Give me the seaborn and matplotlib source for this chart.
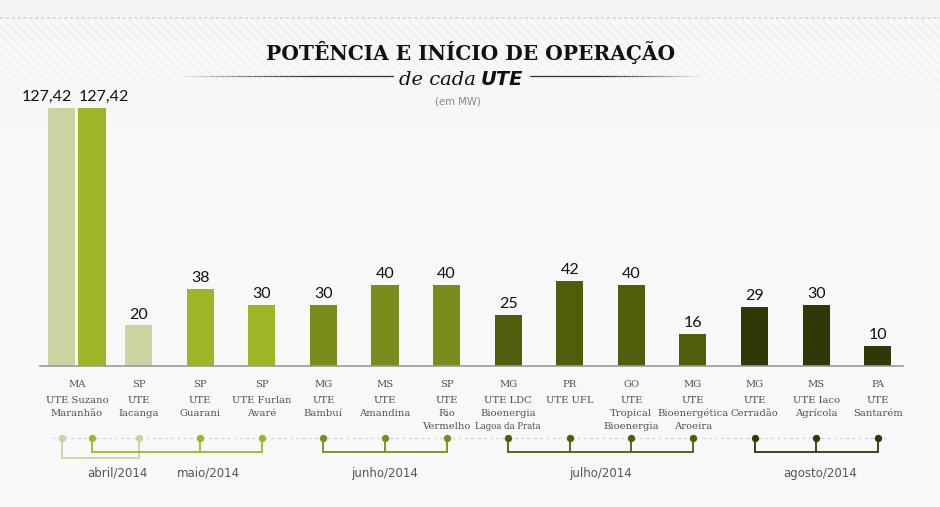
import numpy as np
import pandas as pd
import matplotlib
matplotlib.use("Agg")
import matplotlib.pyplot as plt
import seaborn as sns
from matplotlib.transforms import blended_transform_factory

# ---------------- data ----------------
states = ["MA", "SP", "SP", "SP", "MG", "MS", "SP", "MG", "PR", "GO", "MG", "MG", "MS", "PA"]
plant_names = ["UTE Suzano\nMaranhão", "UTE\nIacanga", "UTE\nGuarani", "UTE Furlan\nAvaré",
               "UTE\nBambuí", "UTE\nAmandina", "UTE\nRio\nVermelho", "UTE LDC\nBioenergia",
               "UTE UFL", "UTE\nTropical\nBioenergia", "UTE\nBioenergética\nAroeira",
               "UTE\nCerradão", "UTE Iaco\nAgrícola", "UTE\nSantarém"]
plant_notes = ["", "", "", "", "", "", "", "Lagoa da Prata", "", "", "", "", "", ""]

# one entry per bar (UTE Suzano Maranhão has two units)
bar_plant = [0, 0, 1, 2, 3, 4, 5, 6, 7, 8, 9, 10, 11, 12, 13]
bar_values = [127.42, 127.42, 20, 38, 30, 30, 40, 40, 25, 42, 40, 16, 29, 30, 10]
bar_labels = ["127,42", "127,42", "20", "38", "30", "30", "40", "40", "25", "42", "40",
              "16", "29", "30", "10"]
bar_months = ["abril/2014", "maio/2014", "abril/2014", "maio/2014", "maio/2014",
              "junho/2014", "junho/2014", "junho/2014",
              "julho/2014", "julho/2014", "julho/2014", "julho/2014",
              "agosto/2014", "agosto/2014", "agosto/2014"]
months = ["abril/2014", "maio/2014", "junho/2014", "julho/2014", "agosto/2014"]
month_colors = ["#cbd4a0", "#a0b526", "#7b8c1b", "#4f5e0a", "#2f3806"]

title = "POTÊNCIA E INÍCIO DE OPERAÇÃO"
subtitle_a = "de cada"
subtitle_b = "UTE"
unit_text = "(em MW)"

# ---------------- layout ----------------
W, H = 940, 507
palette = dict(zip(months, month_colors))
label_ha = ["right", "left"] + ["center"] * 13
bracket_y = {"abril/2014": 458, "maio/2014": 452, "junho/2014": 452,
             "julho/2014": 452, "agosto/2014": 452}
month_label_shift = {"abril/2014": 17, "maio/2014": 32, "junho/2014": 0,
                     "julho/2014": 0, "agosto/2014": 4}

sns.set_theme(style="white")
plt.rcParams["font.family"] = ["DejaVu Sans"]

fig = plt.figure(figsize=(W / 100, H / 100), dpi=100, facecolor="#f8f8f8")

# background with faint diagonal stripes at the top
yy, xx = np.mgrid[0:H, 0:W]
bg = np.full((H, W, 3), 248 / 255.0)
stripe = (((xx - yy) % 9) < 4).astype(float)
fade = np.clip(1 - (yy - 18) / 130.0, 0, 1) * (yy >= 19)
bg -= (stripe * fade * 6 / 255.0)[..., None]
bg[:18] = 244 / 255.0
fig.figimage(bg, xo=0, yo=0, origin="upper", zorder=-10)

def fy(ypx):
    return 1 - ypx / H

def fx(xpx):
    return xpx / W

ax = fig.add_axes([40 / W, fy(366), 863 / W, 286 / H])
ax.patch.set_alpha(0)
ax.set_zorder(1)

df = pd.DataFrame({
    "plant": [plant_names[i] for i in bar_plant],
    "value": bar_values,
    "month": bar_months,
})
singles = df[df["plant"] != plant_names[0]]
pair = df[df["plant"] == plant_names[0]]

sns.barplot(data=singles, x="plant", y="value", order=plant_names, hue="month",
            hue_order=months, palette=palette, dodge=False, width=0.44,
            errorbar=None, legend=False, ax=ax, saturation=1, linewidth=0)
sns.barplot(data=pair, x="plant", y="value", order=plant_names, hue="month",
            hue_order=months[:2], palette=palette, dodge=True, width=0.98, gap=0.1,
            errorbar=None, legend=False, ax=ax, saturation=1, linewidth=0)

centers = list(ax.get_xticks())

ax.set_xlim(-0.6, 13.41)
ax.set_ylim(0, 141.2)
for s in ["left", "right", "top"]:
    ax.spines[s].set_visible(False)
ax.spines["bottom"].set_color("#9a9a9a")
ax.spines["bottom"].set_linewidth(1.2)
ax.tick_params(length=0, labelbottom=False, labelleft=False)
ax.set_xlabel("")
ax.set_ylabel("")

# bars from the library, ordered left to right
bars = sorted([p for p in ax.patches if p.get_height() > 0], key=lambda p: p.get_x())
bar_cx = [p.get_x() + p.get_width() / 2 for p in bars]

# value labels
for k, p in enumerate(bars):
    ha = label_ha[k]
    if ha == "right":
        x = p.get_x() + p.get_width()
        dx = -2.5
    elif ha == "left":
        x = p.get_x()
        dx = 0.5
    else:
        x = bar_cx[k]
        dx = 0
    ax.annotate(bar_labels[k], (x, p.get_height()), xytext=(dx, 5), textcoords="offset points",
                ha=ha, va="baseline", fontsize=11.5, family="Lato", color="#111111")

tr = blended_transform_factory(ax.transData, fig.transFigure)

# category labels
lab_color = "#505050"
fs_lab = 7.2
for i, c in enumerate(centers):
    ax.text(c, fy(387.3), states[i], transform=tr, ha="center", va="baseline",
            fontsize=fs_lab, family="DejaVu Serif", color=lab_color, clip_on=False)
    lines = plant_names[i].split("\n")
    for k, line in enumerate(lines):
        ax.text(c, fy(403.3 + 13 * k), line, transform=tr, ha="center", va="baseline",
                fontsize=fs_lab, family="DejaVu Serif", color=lab_color, clip_on=False)
    if plant_notes[i]:
        ax.text(c, fy(403.3 + 13 * len(lines) - 0.5), plant_notes[i], transform=tr,
                ha="center", va="baseline", fontsize=6.2, family="DejaVu Serif",
                color=lab_color, clip_on=False)

# timeline
dot_y = 437.7
ax.plot([fx(52), fx(887)], [fy(dot_y), fy(dot_y)], transform=fig.transFigure,
        color="#d6d6d6", lw=0.9, ls=(0, (2.5, 2.5)), clip_on=False, zorder=1)
for m in months:
    idx = [k for k, mm in enumerate(bar_months) if mm == m]
    xs = [bar_cx[k] for k in idx]
    col = palette[m]
    by = bracket_y[m]
    for x in xs:
        ax.plot([x, x], [fy(dot_y), fy(by)], transform=tr, color=col, lw=1.3,
                clip_on=False, zorder=2, solid_capstyle="butt")
    ax.plot([min(xs), max(xs)], [fy(by), fy(by)], transform=tr, color=col, lw=1.3,
            clip_on=False, zorder=2, solid_capstyle="projecting")
    ax.scatter(xs, [fy(dot_y)] * len(xs), transform=tr, s=28, color=col,
               clip_on=False, zorder=3, linewidths=0)
    mid = (min(xs) + max(xs)) / 2
    mid_px = ax.transData.transform((mid, 0))[0] + month_label_shift[m]
    fig.text(fx(mid_px), fy(476.5), m, ha="center", va="baseline", fontsize=8.5,
             family="DejaVu Sans", color="#555555")

# title block
fig.text(fx(471), fy(59.5), title, ha="center", va="baseline", fontsize=14.5,
         family="DejaVu Serif", weight="heavy", color="#111111")
fig.text(fx(476), fy(85), subtitle_a, ha="right", va="baseline", fontsize=14,
         family="DejaVu Serif", style="italic", color="#111111")
fig.text(fx(481), fy(85), subtitle_b, ha="left", va="baseline", fontsize=14,
         family="DejaVu Sans", style="italic", weight="bold", color="#111111")
fig.text(fx(458), fy(104.5), unit_text, ha="center", va="baseline", fontsize=7.3,
         family="DejaVu Sans", color="#888888")

# decorative lines beside the subtitle (fading)
n = 40
for k in range(n):
    a = (k + 1) / n
    x0 = 180 + (393 - 180) * k / n
    x1 = 180 + (393 - 180) * (k + 1) / n
    fig.add_artist(plt.Line2D([fx(x0), fx(x1)], [fy(76), fy(76)], color="#222222",
                              alpha=min(1, a * 1.6) * 0.9, lw=0.9))
    x0 = 530 + (700 - 530) * k / n
    x1 = 530 + (700 - 530) * (k + 1) / n
    fig.add_artist(plt.Line2D([fx(x0), fx(x1)], [fy(76), fy(76)], color="#222222",
                              alpha=min(1, (1 - k / n) * 1.6) * 0.9, lw=0.9))

# stitched line at the top
fig.add_artist(plt.Line2D([0, 1], [fy(17.5), fy(17.5)], color="#d8d8d8", lw=1.2,
                          ls=(0, (2, 1.5))))

fig.savefig("out.png", dpi=100, facecolor=fig.get_facecolor())
